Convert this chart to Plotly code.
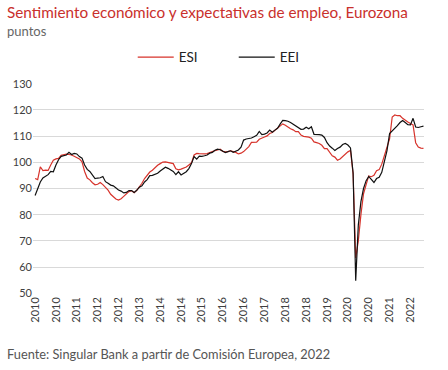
import plotly.graph_objects as go

# Monthly categories Jan 2010 - Jun 2022
months = [f"{y}-{m:02d}" for y in range(2010, 2023) for m in range(1, 13)][:150]

# ESI (Economic Sentiment Indicator), points
esi = [
    # 2010
    93.8, 93.4, 98.3, 96.8, 97.0, 96.9, 99.0, 100.8, 101.3, 101.5, 102.7, 102.9,
    # 2011
    103.1, 103.0, 102.8, 102.3, 101.8, 101.3, 100.2, 96.5, 94.0, 93.3, 92.2, 91.4,
    # 2012
    91.6, 92.3, 91.5, 90.5, 89.4, 87.8, 86.8, 86.0, 85.6, 86.1, 87.0, 88.0,
    # 2013
    88.8, 89.2, 88.4, 89.3, 90.5, 92.0, 93.8, 95.2, 96.3, 97.0, 98.0, 98.9,
    # 2014
    99.5, 100.1, 100.2, 100.0, 99.7, 99.5, 97.5, 97.1, 97.4, 97.8, 98.2, 99.0,
    # 2015
    99.8, 102.8, 103.4, 103.3, 103.2, 103.2, 103.3, 103.8, 104.2, 104.5, 104.7, 105.0,
    # 2016
    104.2, 104.0, 104.1, 104.4, 104.1, 103.8, 103.2, 103.5, 104.1, 105.1, 106.0, 107.6,
    # 2017
    107.6, 107.7, 108.8, 109.4, 109.7, 110.1, 111.0, 111.4, 112.3, 113.2, 114.0, 114.7,
    # 2018
    114.2, 113.4, 112.8, 112.4, 111.7, 111.7, 110.4, 109.9, 109.8, 109.6, 109.2, 107.8,
    # 2019
    107.5, 107.2, 106.5, 105.2, 105.2, 103.8, 102.5, 102.0, 100.8, 101.3, 102.2, 103.0,
    # 2020
    104.0, 104.5, 95.5, 63.5, 70.0, 80.0, 88.0, 91.5, 94.8, 94.5, 95.0, 96.8,
    # 2021
    97.2, 99.3, 102.5, 105.5, 109.0, 117.3, 118.1, 117.8, 117.8, 116.8, 116.0, 115.4,
    # 2022
    114.8, 114.3, 107.5, 105.8, 105.4, 105.3,
]

# EEI (Employment Expectations Indicator), points
eei = [
    # 2010
    87.3, 89.6, 92.5, 94.0, 94.6, 95.3, 96.5, 96.4, 99.0, 101.0, 102.3, 102.6,
    # 2011
    102.8, 103.8, 103.0, 103.4, 103.2, 102.2, 101.6, 99.0, 97.3, 96.5, 95.2, 93.8,
    # 2012
    94.0, 94.1, 94.6, 92.6, 92.0, 91.3, 91.0, 90.1, 89.4, 89.0, 88.3, 88.5,
    # 2013
    89.2, 89.2, 88.5, 89.3, 90.5, 91.0, 92.5, 93.4, 94.9, 95.0, 95.3, 95.8,
    # 2014
    96.7, 97.5, 98.1, 97.7, 97.2, 96.5, 95.3, 96.4, 95.2, 95.8, 96.4, 97.6,
    # 2015
    99.5, 102.2, 101.2, 102.4, 102.3, 102.5, 102.8, 103.5, 103.8, 104.6, 105.0, 104.8,
    # 2016
    104.1, 103.7, 104.1, 104.4, 103.8, 104.2, 104.7, 105.8, 108.5, 108.9, 109.1, 109.3,
    # 2017
    109.8, 110.3, 111.8, 110.6, 110.8, 111.2, 112.3, 111.5, 112.3, 113.0, 114.6, 116.0,
    # 2018
    115.9, 115.7, 115.2, 114.5, 113.8, 113.2, 112.6, 112.7, 113.4, 112.8, 113.6, 110.7,
    # 2019
    110.7, 110.6, 110.4, 109.5, 107.5, 106.2, 105.4, 104.5, 105.3, 105.8, 106.8, 107.2,
    # 2020
    106.6, 105.5, 96.0, 54.8, 76.0, 85.0, 90.0, 93.0, 94.6, 93.6, 92.3, 93.8,
    # 2021
    94.3, 96.2, 100.5, 104.5, 111.0, 112.0, 112.8, 114.0, 115.2, 116.0, 115.2, 114.4,
    # 2022
    114.3, 116.8, 113.5, 113.3, 113.6, 113.8,
]

tick_every = 8
tick_vals = months[::tick_every]
tick_text = [m[:4] for m in tick_vals]
y_ticks = [50, 60, 70, 80, 90, 100, 110, 120, 130]

assert len(esi) == len(months) == len(eei)

FONT = "Lato"
RED = "#d7332b"

fig = go.Figure()
fig.add_trace(go.Scatter(x=months, y=esi, name="ESI         ", mode="lines",
                         line=dict(color=RED, width=1.2)))
fig.add_trace(go.Scatter(x=months, y=eei, name="EEI", mode="lines",
                         line=dict(color="#111111", width=1.2)))

fig.update_layout(
    width=448, height=370,
    margin=dict(l=33, r=24, t=83, b=76, autoexpand=False),
    paper_bgcolor="white", plot_bgcolor="white",
    font=dict(family=FONT, color="#333333"),
    showlegend=True,
    legend=dict(orientation="h", x=0.475, xanchor="center", y=1.122, yanchor="middle",
                font=dict(size=13.5, color="#222222"), itemwidth=36,
                bgcolor="rgba(0,0,0,0)"),
    xaxis=dict(type="category", range=[-0.8, 149.2], tickmode="array",
               tickvals=tick_vals, ticktext=tick_text, tickangle=-90,
               showgrid=False, showline=False, ticks="", automargin=False,
               tickfont=dict(size=11, color="#404040", family=FONT)),
    yaxis=dict(range=[49.7, 130.3], tickvals=y_ticks, showgrid=True,
               gridcolor="#d9d9d9", gridwidth=1, zeroline=False, showline=False,
               ticks="", automargin=False,
               tickfont=dict(size=11, color="#404040", family=FONT)),
    annotations=[
        dict(text="Sentimiento económico y expectativas de empleo, Eurozona",
             xref="paper", yref="paper", x=-0.0716, y=1.335, xanchor="left",
             yanchor="middle", showarrow=False,
             font=dict(size=15.3, color="#c9302c", family=FONT)),
        dict(text="puntos", xref="paper", yref="paper", x=-0.0716, y=1.248,
             xanchor="left", yanchor="middle", showarrow=False,
             font=dict(size=13, color="#666666", family=FONT)),
        dict(text="Fuente: Singular Bank a partir de Comisión Europea, 2022",
             xref="paper", yref="paper", x=-0.0716, y=-0.283, xanchor="left",
             yanchor="middle", showarrow=False,
             font=dict(size=12.8, color="#555555", family=FONT)),
    ],
)

fig.write_html("out.html", config={"displayModeBar": False},
               post_script="document.body.style.margin='0px';")
